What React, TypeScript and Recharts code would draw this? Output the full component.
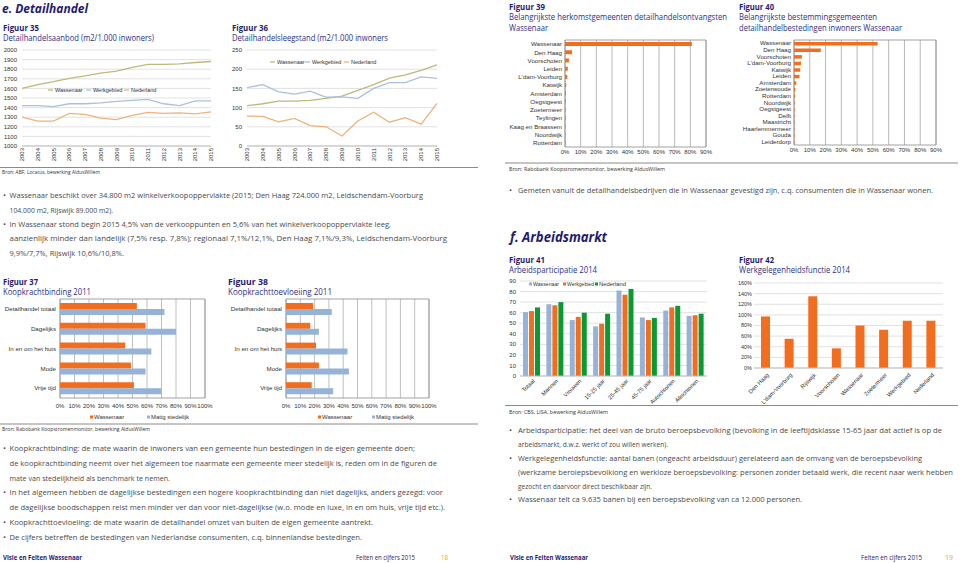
import React from 'react';
import { LineChart, Line, BarChart, Bar, XAxis, YAxis, CartesianGrid, ReferenceArea, Customized } from 'recharts';

// ---------- data ----------
const years = ['2003','2004','2005','2006','2007','2008','2009','2010','2011','2012','2013','2014','2015'];
const aanbodWassenaar = [1600,1640,1670,1705,1730,1760,1780,1820,1850,1850,1855,1870,1880];
const aanbodWerkgebied = [1420,1420,1410,1440,1440,1450,1465,1475,1485,1440,1420,1470,1470];
const aanbodNederland = [1300,1260,1260,1340,1330,1290,1275,1320,1350,1340,1345,1335,1355];
const aanbodTicks = [1000,1100,1200,1300,1400,1500,1600,1700,1800,1900,2000];

const leegWassenaar = [105,110,117,117,119,124,130,145,160,177,185,197,211];
const leegWerkgebied = [152,160,141,135,143,127,128,124,150,165,165,180,176];
const leegNederland = [78,77,63,72,53,50,26,65,88,62,74,57,111];
const leegTicks = [0,50,100,150,200,250];

const herkomstNames = ['Wassenaar','Den Haag','Voorschoten','Leiden',"L'dam-Voorburg",'Katwijk','Amsterdam','Oegstgeest','Zoetermeer','Teylingen','Kaag en Braassem','Noordwijk','Rotterdam'];
const herkomstValues = [81,4.5,2.5,1.8,1.5,0.8,0.6,0.5,0.4,0.4,0.3,0.3,0.3];
const bestemmingNames = ['Wassenaar','Den Haag','Voorschoten',"L'dam-Voorburg",'Katwijk','Leiden','Amsterdam','Zoeterwoude','Rotterdam','Noordwijk','Oegstgeest','Delft','Maastricht','Haarlemmermeer','Gouda','Leiderdorp'];
const bestemmingValues = [53,17,5,4.5,4,3.5,1.5,0.8,0.6,0.4,0.4,0.3,0.3,0.3,0.3,0.3];
const pctTicks90 = [0,10,20,30,40,50,60,70,80,90];

const koopCategories = ['Detailhandel totaal','Dagelijks','In en om het huis','Mode','Vrije tijd'];
const bindingWassenaar = [53,59,45,49,51];
const bindingMatig = [72,80,63,59,70];
const toevloeiingWassenaar = [19,17,21,23,18];
const toevloeiingMatig = [32,23,43,44,33];
const pctTicks100 = [0,10,20,30,40,50,60,70,80,90,100];

const arbeidCategories = ['Totaal','Mannen','Vrouwen','15-25 jaar','25-45 jaar','45-75 jaar','Autochtonen','Allochtonen'];
const arbeidWassenaar = [60.5,68,53,47,81,55.5,62,57];
const arbeidWerkgebied = [61.5,67,56,49.5,77,53,65,57.5];
const arbeidNederland = [65,70,60,59,82.5,55,66.5,59];
const arbeidTicks = [0,10,20,30,40,50,60,70,80,90];

const werkCategories = ['Den Haag',"L'dam-Voorburg",'Rijswijk','Voorschoten','Wassenaar','Zoetermeer','Werkgebied','Nederland'];
const werkValues = [97,55,135,37,80,72,89,89];
const werkTicks = [0,20,40,60,80,100,120,140,160];

// ---------- styles ----------
const CF = "'Liberation Sans', Arial, sans-serif";
const BF = "'Open Sans', 'Noto Sans', sans-serif";
const NAVY = '#1f1b6e';
const SUB = '#2e2f86';
const BODY = '#4a4a4a';
const ORANGE = '#f36d1f';
const BLUE = '#95b3d7';
const GREEN = '#0a9a32';
const L_WAS = '#bdb97a';
const L_WERK = '#a9c0df';
const L_NED = '#edb37b';
const TICK = { fontSize: 6, fill: '#333', fontFamily: CF };

const aanbodData = years.map((y, i) => ({ year: y, Wassenaar: aanbodWassenaar[i], Werkgebied: aanbodWerkgebied[i], Nederland: aanbodNederland[i] }));
const leegData = years.map((y, i) => ({ year: y, Wassenaar: leegWassenaar[i], Werkgebied: leegWerkgebied[i], Nederland: leegNederland[i] }));
const herkomstData = herkomstNames.map((n, i) => ({ name: n, v: herkomstValues[i] }));
const bestemmingData = bestemmingNames.map((n, i) => ({ name: n, v: bestemmingValues[i] }));
const bindingData = koopCategories.map((n, i) => ({ name: n, Wassenaar: bindingWassenaar[i], Matig: bindingMatig[i] }));
const toevloeiingData = koopCategories.map((n, i) => ({ name: n, Wassenaar: toevloeiingWassenaar[i], Matig: toevloeiingMatig[i] }));
const arbeidData = arbeidCategories.map((n, i) => ({ name: n, Wassenaar: arbeidWassenaar[i], Werkgebied: arbeidWerkgebied[i], Nederland: arbeidNederland[i] }));
const werkData = werkCategories.map((n, i) => ({ name: n, v: werkValues[i] }));

// ---------- helpers ----------
const VTick = (props: any) => {
  const { x, y, payload } = props;
  return (
    <g transform={`translate(${x},${y})`}>
      <text transform="rotate(-90)" textAnchor="end" dy={2} fontSize={6} fill="#333" fontFamily={CF}>{payload.value}</text>
    </g>
  );
};
const DTick = (props: any) => {
  const { x, y, payload } = props;
  return (
    <g transform={`translate(${x + 2},${y + 2})`}>
      <text transform="rotate(-45)" textAnchor="end" dy={2} fontSize={5.8} fill="#333" fontFamily={CF}>{payload.value}</text>
    </g>
  );
};
const CatTick = (props: any) => {
  const { x, y, payload } = props;
  return <text x={x} y={y} dy={2.2} textAnchor="end" fontSize={6.2} fill="#333" fontFamily={CF}>{payload.value}</text>;
};

type LItem = { label: string; color: string; x: number; w?: number };
const legendG = (items: LItem[], y: number, kind: 'line' | 'square', fs: number) => (
  <g>
    {items.map((it) => (
      <g key={it.label}>
        {kind === 'line'
          ? <line x1={it.x} x2={it.x + 5} y1={y} y2={y} stroke={it.color} strokeWidth={1.3} />
          : <rect x={it.x} y={y - 1.5} width={3} height={3} fill={it.color} />}
        <text x={it.x + (kind === 'line' ? 7 : 4)} y={y + 2} fontSize={fs} fill="#333" fontFamily={CF}
          textLength={it.w} lengthAdjust={it.w ? 'spacingAndGlyphs' : undefined}>{it.label}</text>
      </g>
    ))}
  </g>
);

const T = ({ x, y, w, s = 8, fw = 400, c = BODY, it = false, fam = BF, children }: any) => (
  <text x={x} y={y} fontSize={s} fontWeight={fw} fill={c} fontStyle={it ? 'italic' : 'normal'} fontFamily={fam}
    textLength={w} lengthAdjust="spacingAndGlyphs">{children}</text>
);

type Line_ = [string, number, number, boolean];
const leftTop: Line_[] = [
  ['Wassenaar beschikt over 34.800 m2 winkelverkoopoppervlakte (2015; Den Haag 724.000 m2, Leidschendam-Voorburg', 198, 423, true],
  ['104.000 m2, Rijswijk 89.000 m2).', 213, 113, false],
  ['In Wassenaar stond begin 2015 4,5% van de verkooppunten en 5,6% van het winkelverkoopoppervlakte leeg,', 227, 391, true],
  ['aanzienlijk minder dan landelijk (7,5% resp. 7,8%); regionaal 7,1%/12,1%, Den Haag 7,1%/9,3%, Leidschendam-Voorburg', 241, 447, false],
  ['9,9%/7,7%, Rijswijk 10,6%/10,8%.', 256, 124, false],
];
const leftBottom: Line_[] = [
  ['Koopkrachtbinding: de mate waarin de inwoners van een gemeente hun bestedingen in de eigen gemeente doen;', 451, 415, true],
  ['de koopkrachtbinding neemt over het algemeen toe naarmate een gemeente meer stedelijk is, reden om in de figuren de', 466, 437, false],
  ['mate van stedelijkheid als benchmark te nemen.', 481, 170, false],
  ['In het algemeen hebben de dagelijkse bestedingen een hogere koopkrachtbinding dan niet dagelijks, anders gezegd: voor', 495, 443, true],
  ['de dagelijkse boodschappen reist men minder ver dan voor niet-dagelijkse (w.o. mode en luxe, in en om huis, vrije tijd etc.).', 510, 445, false],
  ['Koopkrachttoevloeiing: de mate waarin de detailhandel omzet van buiten de eigen gemeente aantrekt.', 525, 373, true],
  ['De cijfers betreffen de bestedingen van Nederlandse consumenten, c.q. binnenlandse bestedingen.', 540, 362, true],
];
const rightTop: Line_[] = [
  ['Gemeten vanuit de detailhandelsbedrijven die in Wassenaar gevestigd zijn, c.q. consumenten die in Wassenaar wonen.', 193, 933, true],
];
const rightBottom: Line_[] = [
  ['Arbeidsparticipatie: het deel van de bruto beroepsbevolking (bevolking in de leeftijdsklasse 15-65 jaar dat actief is op de', 433, 942, true],
  ['arbeidsmarkt, d.w.z. werkt of zou willen werken).', 447, 668, false],
  ['Werkgelegenheidsfunctie: aantal banen (ongeacht arbeidsduur) gerelateerd aan de omvang van de beroepsbevolking', 461, 922, true],
  ['(werkzame beroiepsbevolkiong en werkloze beroepsbevolking: personen zonder betaald werk, die recent naar werk hebben', 475, 953, false],
  ['gezocht en daarvoor direct beschikbaar zijn.', 489, 652, false],
  ['Wassenaar telt ca 9.635 banen bij een beroepsbevolking van ca 12.000 personen.', 502, 802, true],
];

const renderLines = (lines: Line_[], bx: number, tx: number) =>
  lines.map(([t, y, end, b], i) => (
    <g key={i}>
      {b && <text x={bx} y={y} fontSize={8} fill={BODY} fontFamily={BF}>•</text>}
      <T x={tx} y={y} w={end - tx} s={7.2}>{t}</T>
    </g>
  ));

const Title = ({ x, y, num, w, sub }: { x: number; y: number; num: string; w: number; sub: [string, number][] }) => (
  <g>
    <T x={x} y={y} w={w} s={8.5} fw={700} c={NAVY}>{num}</T>
    {sub.map(([s, sw], i) => (
      <T key={i} x={x} y={y + 10 * (i + 1) + (i > 0 ? 0.5 : 0)} w={sw} s={8.5} c={SUB}>{s}</T>
    ))}
  </g>
);

// ---------- charts ----------
function LineFig({ data, ticks, domain, left, top, width, legendItems, legendY }: any) {
  return (
    <div style={{ position: 'absolute', left, top }}>
      <LineChart width={width} height={125} data={data} margin={{ top: 6, right: 4, left: 0, bottom: 0 }}>
        <CartesianGrid vertical={false} stroke="#d9d9d9" strokeWidth={0.8} />
        <XAxis dataKey="year" interval={0} tick={<VTick />} tickLine={false} tickSize={2} tickMargin={0} axisLine={{ stroke: '#bfbfbf' }} height={23} />
        <YAxis domain={domain} ticks={ticks} width={22} tick={TICK} tickLine={false} axisLine={false} tickSize={3} tickMargin={2} interval={0} />
        <Line dataKey="Wassenaar" stroke={L_WAS} strokeWidth={1.3} dot={false} isAnimationActive={false} />
        <Line dataKey="Werkgebied" stroke={L_WERK} strokeWidth={1.3} dot={false} isAnimationActive={false} />
        <Line dataKey="Nederland" stroke={L_NED} strokeWidth={1.3} dot={false} isAnimationActive={false} />
        <Customized component={() => legendG(legendItems, legendY, 'line', 5.5)} />
      </LineChart>
    </div>
  );
}

function HBarFig({ data, left, top, plotW, height, yw, barSize }: any) {
  return (
    <div style={{ position: 'absolute', left, top }}>
      <BarChart width={yw + plotW + 10} height={height} data={data} layout="vertical" margin={{ top: 4, right: 10, left: 0, bottom: 0 }}>
        <CartesianGrid horizontal={false} stroke="#a6a6a6" strokeWidth={0.8} />
        <XAxis type="number" domain={[0, 90]} ticks={pctTicks90} interval={0} tickFormatter={(v: number) => v + '%'} tick={TICK} tickLine={false} axisLine={false} tickSize={2} tickMargin={1} height={14} />
        <YAxis type="category" dataKey="name" width={yw} interval={0} tick={<CatTick />} tickLine={false} axisLine={false} tickSize={2} tickMargin={1} />
        <ReferenceArea x1={0} x2={90} fill="none" stroke="#8c8c8c" strokeWidth={0.8} ifOverflow="visible" />
        <Bar dataKey="v" fill={ORANGE} barSize={barSize} isAnimationActive={false} />
      </BarChart>
    </div>
  );
}

function KoopFig({ data, left, top, yw, plotW, legendXs }: any) {
  return (
    <div style={{ position: 'absolute', left, top }}>
      <BarChart width={yw + plotW + 10} height={130} data={data} layout="vertical" barGap={0} margin={{ top: 4, right: 10, left: 0, bottom: 0 }}>
        <CartesianGrid horizontal={false} stroke="#b0b0b0" strokeWidth={0.8} />
        <XAxis type="number" domain={[0, 100]} ticks={pctTicks100} interval={0} tickFormatter={(v: number) => v + '%'} tick={TICK} tickLine={false} axisLine={false} tickSize={5} tickMargin={1} height={27} />
        <YAxis type="category" dataKey="name" width={yw} interval={0} tick={<CatTick />} tickLine={false} axisLine={false} tickSize={2} tickMargin={2} />
        <ReferenceArea x1={0} x2={100} fill="none" stroke="#8c8c8c" strokeWidth={0.8} ifOverflow="visible" />
        <Bar dataKey="Wassenaar" fill={ORANGE} barSize={6} isAnimationActive={false} />
        <Bar dataKey="Matig" fill={BLUE} barSize={6} isAnimationActive={false} />
        <Customized component={() => legendG([
          { label: 'Wassenaar', color: ORANGE, x: legendXs[0] },
          { label: 'Matig stedelijk', color: BLUE, x: legendXs[1] },
        ], 122, 'square', 6)} />
      </BarChart>
    </div>
  );
}

export default function App() {
  return (
    <div style={{ position: 'absolute', left: 0, top: 0, width: 960, height: 563, background: '#fff', overflow: 'hidden' }}>
      <svg width={960} height={563} style={{ position: 'absolute', left: 0, top: 0 }}>
        <T x={2} y={12.5} w={86} s={13} fw={700} it c={NAVY}>e. Detailhandel</T>
        <T x={510} y={242} w={97} s={14} fw={700} it c={NAVY}>f. Arbeidsmarkt</T>

        <Title x={3} y={30.5} num="Figuur 35" w={36} sub={[['Detailhandelsaanbod (m2/1.000 inwoners)', 151]]} />
        <Title x={232} y={30.5} num="Figuur 36" w={36} sub={[['Detailhandelsleegstand (m2/1.000 inwoners', 156]]} />
        <Title x={509} y={10} num="Figuur 39" w={36} sub={[['Belangrijkste herkomstgemeenten detailhandelsontvangsten', 218], ['Wassenaar', 39]]} />
        <Title x={739} y={10} num="Figuur 40" w={35} sub={[['Belangrijkste bestemmingsgemeenten', 138], ['detailhandelbestedingen inwoners Wassenaar', 163]]} />
        <Title x={3} y={285} num="Figuur 37" w={35} sub={[['Koopkrachtbinding 2011', 88]]} />
        <Title x={228} y={285} num="Figuur 38" w={40} sub={[['Koopkrachttoevloeiing 2011', 104]]} />
        <Title x={509} y={262.5} num="Figuur 41" w={36} sub={[['Arbeidsparticipatie 2014', 88]]} />
        <Title x={739} y={262.5} num="Figuur 42" w={35} sub={[['Werkgelegenheidsfunctie 2014', 111]]} />

        <line x1={0} x2={478} y1={167.5} y2={167.5} stroke="#8a8a8a" strokeWidth={1} />
        <T x={2} y={174} w={98} s={5.5} c="#333">Bron: ABF, Locatus, bewerking AldusWillem</T>
        <line x1={505} x2={958} y1={163} y2={163} stroke="#8a8a8a" strokeWidth={1} />
        <T x={509} y={171} w={156} s={5.5} c="#333">Bron: Rabobank Koopstromenmonitor, bewerking AldusWillem</T>
        <line x1={0} x2={478} y1={424} y2={424} stroke="#8a8a8a" strokeWidth={1} />
        <T x={2} y={431} w={148} s={5.5} c="#333">Bron: Rabobank Koopstromenmonitor, bewerking AldusWillem</T>
        <line x1={505} x2={958} y1={405.5} y2={405.5} stroke="#8a8a8a" strokeWidth={1} />
        <T x={509} y={414} w={99} s={5.5} c="#333">Bron: CBS, LISA, bewerking AldusWillem</T>

        {renderLines(leftTop, 3, 9.5)}
        {renderLines(leftBottom, 3, 9.5)}
        {renderLines(rightTop, 509, 518)}
        {renderLines(rightBottom, 509, 518)}

        <T x={3} y={560} w={79} s={7} fw={700} c={NAVY}>Visie en Feiten Wassenaar</T>
        <T x={356} y={560} w={59} s={7} c={NAVY}>Feiten en cijfers 2015</T>
        <T x={441} y={560} w={7} s={7} c="#e8a22e">18</T>
        <T x={510} y={560} w={78} s={7} fw={700} c={NAVY}>Visie en Feiten Wassenaar</T>
        <T x={861} y={560} w={61} s={7} c={NAVY}>Feiten en cijfers 2015</T>
        <T x={945} y={560} w={8} s={7} c="#e8a22e">19</T>
      </svg>

      <LineFig data={aanbodData} ticks={aanbodTicks} domain={[1000, 2000]} left={0} top={44} width={215}
        legendItems={[{ label: 'Wassenaar', color: L_WAS, x: 48 }, { label: 'Werkgebied', color: L_WERK, x: 86 }, { label: 'Nederland', color: L_NED, x: 124 }]} legendY={46} />
      <LineFig data={leegData} ticks={leegTicks} domain={[0, 250]} left={225} top={44} width={216}
        legendItems={[{ label: 'Wassenaar', color: L_WAS, x: 45 }, { label: 'Werkgebied', color: L_WERK, x: 80 }, { label: 'Nederland', color: L_NED, x: 119 }]} legendY={18} />

      <HBarFig data={herkomstData} left={505} top={36} plotW={141} height={125} yw={60} barSize={4} />
      <HBarFig data={bestemmingData} left={735} top={36} plotW={142} height={123} yw={59} barSize={3.5} />

      <KoopFig data={bindingData} left={0} top={295} yw={60} plotW={145} legendXs={[90, 147]} />
      <KoopFig data={toevloeiingData} left={225} top={295} yw={61} plotW={143} legendXs={[93, 147]} />

      <div style={{ position: 'absolute', left: 505, top: 277 }}>
        <BarChart width={206} height={127} data={arbeidData} barGap={1} margin={{ top: 4, right: 4, left: 0, bottom: 0 }}>
          <CartesianGrid vertical={false} stroke="#d9d9d9" strokeWidth={0.8} />
          <XAxis dataKey="name" interval={0} tick={<DTick />} tickLine={false} tickSize={2} tickMargin={0} axisLine={{ stroke: '#bfbfbf' }} height={28} />
          <YAxis domain={[0, 90]} ticks={arbeidTicks} interval={0} width={15} tick={TICK} tickLine={false} axisLine={false} tickSize={2} tickMargin={2} />
          <Bar dataKey="Wassenaar" fill={BLUE} barSize={5} isAnimationActive={false} />
          <Bar dataKey="Werkgebied" fill={ORANGE} barSize={5} isAnimationActive={false} />
          <Bar dataKey="Nederland" fill={GREEN} barSize={5} isAnimationActive={false} />
          <Customized component={() => legendG([
            { label: 'Wassenaar', color: BLUE, x: 24, w: 26 },
            { label: 'Werkgebied', color: ORANGE, x: 58, w: 27 },
            { label: 'Nederland', color: GREEN, x: 90, w: 27 },
          ], 7, 'square', 5.5)} />
        </BarChart>
      </div>

      <div style={{ position: 'absolute', left: 735, top: 279 }}>
        <BarChart width={212} height={125} data={werkData} margin={{ top: 4, right: 4, left: 0, bottom: 0 }}>
          <CartesianGrid vertical={false} stroke="#d9d9d9" strokeWidth={0.8} />
          <XAxis dataKey="name" interval={0} tick={<DTick />} tickLine={false} tickSize={2} tickMargin={2} axisLine={{ stroke: '#bfbfbf' }} height={36} />
          <YAxis domain={[0, 160]} ticks={werkTicks} interval={0} width={19} tickFormatter={(v: number) => v + '%'} tick={{ ...TICK, fontSize: 5.5 }} tickLine={false} axisLine={false} tickSize={1} tickMargin={1} />
          <Bar dataKey="v" fill={ORANGE} barSize={9} isAnimationActive={false} />
        </BarChart>
      </div>
    </div>
  );
}
